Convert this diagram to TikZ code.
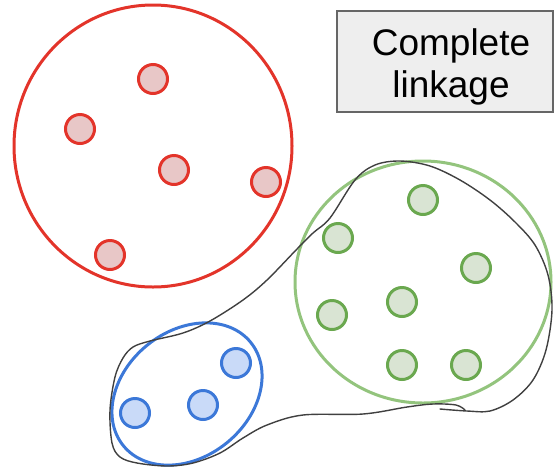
\documentclass[tikz,border=0pt]{standalone}
\usepackage{fontspec}
\setmainfont{Liberation Sans}
\definecolor{clred}{HTML}{E3342A}
\definecolor{clredfill}{HTML}{E8C7C7}
\definecolor{clgreen}{HTML}{6AA84F}
\definecolor{clgreenfill}{HTML}{D9E4D3}
\definecolor{clgreenring}{HTML}{93C47D}
\definecolor{clblue}{HTML}{3C78D8}
\definecolor{clbluefill}{HTML}{C9DAF8}
\definecolor{boxgray}{HTML}{666666}
\definecolor{boxfill}{HTML}{EEEEEE}

\begin{document}
\begin{tikzpicture}[x=1pt,y=-1pt,
    dot/.style={circle,line width=3pt,minimum size=29pt,inner sep=0pt},
    reddot/.style={dot,draw=clred,fill=clredfill},
    greendot/.style={dot,draw=clgreen,fill=clgreenfill},
    bluedot/.style={dot,draw=clblue,fill=clbluefill},
    ring/.style={line width=3pt}]
  \useasboundingbox (0,0) rectangle (557,467);
  % cluster outlines
  \coordinate (rc) at (153,146);
  \coordinate (gc) at (423,282);
  \coordinate (bc) at (187,394);
  \draw[ring,clred] (rc) ellipse [x radius=139,y radius=141];
  \draw[ring,clgreenring] (gc) ellipse [x radius=128,y radius=121];
  \draw[ring,clblue,rotate around={39:(bc)}] (bc) ellipse [x radius=82,y radius=63];
  % points
  \foreach \p [count=\i] in {(153,79),(80,129),(174,170),(266,182),(110,255)}
    {\node[reddot] (r\i) at \p {};}
  \foreach \p [count=\i] in {(423,200),(338,238),(476,268),(402,302),(332,315),(402,365),(466,365)}
    {\node[greendot] (g\i) at \p {};}
  \foreach \p [count=\i] in {(236,363),(203,405),(135,413)}
    {\node[bluedot] (b\i) at \p {};}
  % complete linkage hull (hand drawn)
  \draw[line width=1.4pt,black!75,line cap=round]
    plot[smooth,tension=0.55] coordinates {
      (440,409) (467,411) (490,411) (513,400) (533,380) (546,350) (552,310)
      (548,275) (535,245) (515,222) (490,200) (460,180) (430,166) (400,161)
      (375,165) (355,180) (330,218) (313,233) (297,249) (267,280) (243,300)
      (210,321) (183,333) (150,341) (133,347) (123,358) (115,377) (110,410)
      (112,443) (120,457) (137,463) (167,466) (193,463) (220,453) (243,438)
      (267,425) (303,415) (363,414) (407,407) (433,404) (456,405) (465,410)};
  % title box
  \node[draw=boxgray,fill=boxfill,line width=2pt,minimum width=216pt,
        minimum height=101pt,inner sep=0pt] (box) at (445,61.5) {};
  \node[align=center,inner sep=0pt,font=\fontsize{37}{42}\selectfont]
        (title) at (451,66.5) {Complete\\linkage};
\end{tikzpicture}
\end{document}
